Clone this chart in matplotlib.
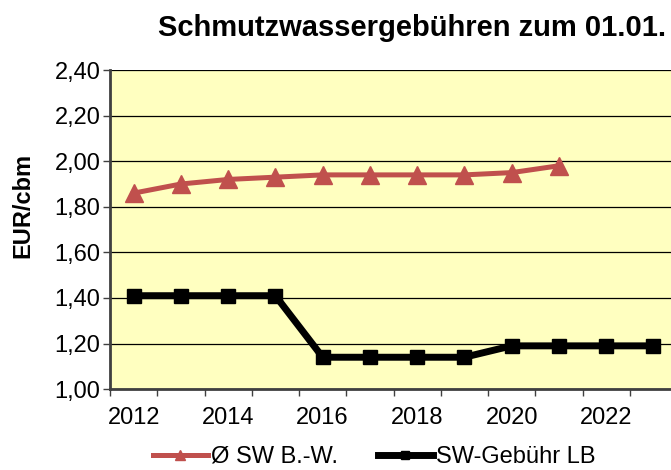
import numpy as np
import matplotlib.pyplot as plt
from matplotlib.ticker import FixedLocator, FuncFormatter

plt.rcParams['font.family'] = ['Liberation Sans', 'DejaVu Sans']

# data
years = [2012, 2013, 2014, 2015, 2016, 2017, 2018, 2019, 2020, 2021, 2022, 2023]
sw_bw = [1.86, 1.90, 1.92, 1.93, 1.94, 1.94, 1.94, 1.94, 1.95, 1.98]
sw_lb = [1.41, 1.41, 1.41, 1.41, 1.14, 1.14, 1.14, 1.14, 1.19, 1.19, 1.19, 1.19]
label_bw = 'Ø SW B.-W.'
label_lb = 'SW-Gebühr LB'
title = 'Schmutzwassergebühren zum 01.01.'

fig = plt.figure(figsize=(6.71, 4.70), dpi=100)
ax = fig.add_axes([0.164, 0.172, 0.845, 0.679])
ax.set_facecolor('#FFFFC0')

x = np.arange(len(years))
ax.plot(x[:len(sw_bw)], sw_bw, color='#C0504D', lw=3.6, marker='^', ms=13,
        label=label_bw, zorder=3)
ax.plot(x, sw_lb, color='black', lw=5, marker='s', ms=10, label=label_lb,
        zorder=3)

ax.set_xlim(-0.5, len(years) - 0.5)
ax.set_ylim(1.0, 2.4)
ax.set_yticks(np.arange(1.0, 2.41, 0.2))
ax.yaxis.set_major_formatter(FuncFormatter(lambda v, p: f'{v:.2f}'.replace('.', ',')))
ax.grid(axis='y', color='black', lw=0.9)
ax.set_axisbelow(True)

# category axis: ticks on boundaries, labels on every second year
ax.xaxis.set_major_locator(FixedLocator(x[::2]))
ax.set_xticklabels([str(y) for y in years[::2]])
ax.xaxis.set_minor_locator(FixedLocator(np.arange(-0.5, len(years), 1)))
ax.tick_params(axis='x', which='major', length=0, labelsize=17, pad=13)
ax.tick_params(axis='x', which='minor', length=5, width=1, color='#404040')
ax.tick_params(axis='y', length=5, width=1, color='#404040', labelsize=17, pad=2)

for s in ['top', 'right']:
    ax.spines[s].set_visible(False)
ax.spines['left'].set_color('#404040')
ax.spines['left'].set_linewidth(2)
ax.spines['bottom'].set_color('#404040')
ax.spines['bottom'].set_linewidth(2)

ax.set_ylabel('EUR/cbm', fontsize=17, fontweight='bold', va='center')
ax.yaxis.set_label_coords(-87 / 567, 0.577)
fig.text(0.614, 0.94, title, ha='center', va='center', fontsize=21,
         fontweight='bold')

fig.legend(loc='center', bbox_to_anchor=(0.558, 0.028), ncol=2,
           frameon=False, fontsize=17, handlelength=2.3, handletextpad=0.15,
           columnspacing=1.7, markerscale=0.6, borderpad=0)

fig.savefig('out.png', dpi=100)
